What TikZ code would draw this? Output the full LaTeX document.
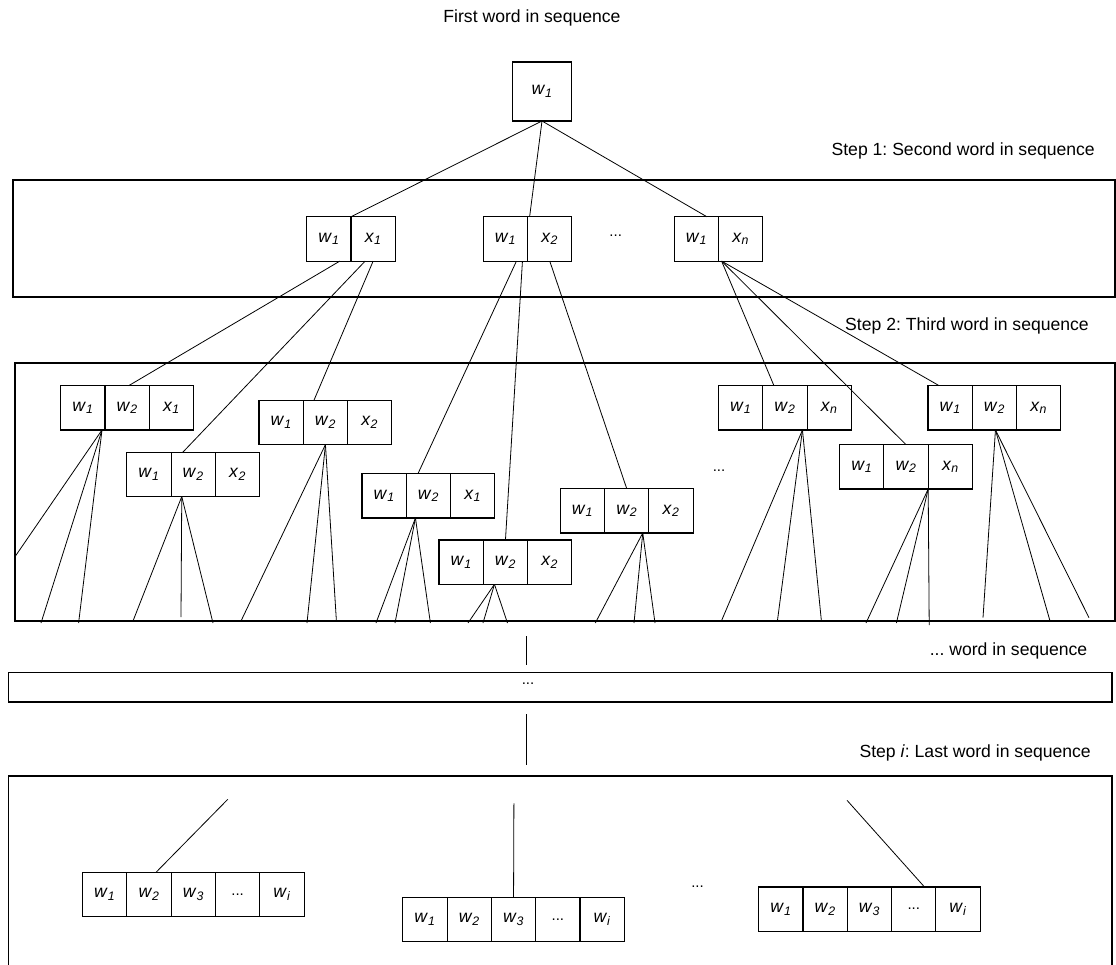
\documentclass[tikz,border=0pt]{standalone}
\usepackage{fontspec}
\setmainfont{Liberation Sans}
\usetikzlibrary{calc}
\frenchspacing
\newcommand\wsub[2]{\textit{#1}\textsubscript{\textit{#2}}}
\tikzset{
  cell/.style={draw, line width=1.1pt, minimum width=44.3pt, minimum height=44.3pt,
               inner sep=0pt, outer sep=0pt, font=\fontsize{17.6}{20}\selectfont},
  conn/.style={line width=0.8pt},
  frame/.style={line width=1.3pt},
  lbl/.style={font=\fontsize{17.6}{20}\selectfont, inner sep=0pt},
  dots/.style={font=\fontsize{15}{18}\selectfont, inner sep=0pt, anchor=base}
}
% two-cell group: name, left x, top y, subscript of x
\newcommand\twocell[4]{%
  \node[cell, anchor=north west] (#1-1) at (#2,#3) {\wsub{w}{1}};
  \node[cell, anchor=west] (#1-2) at (#1-1.east) {\wsub{x}{#4}};
}
% three-cell group
\newcommand\threecell[4]{%
  \node[cell, anchor=north west] (#1-1) at (#2,#3) {\wsub{w}{1}};
  \node[cell, anchor=west] (#1-2) at (#1-1.east) {\wsub{w}{2}};
  \node[cell, anchor=west] (#1-3) at (#1-2.east) {\wsub{x}{#4}};
}
% five-cell group
\newcommand\fivecell[3]{%
  \node[cell, anchor=north west] (#1-1) at (#2,#3) {\wsub{w}{1}};
  \node[cell, anchor=west] (#1-2) at (#1-1.east) {\wsub{w}{2}};
  \node[cell, anchor=west] (#1-3) at (#1-2.east) {\wsub{w}{3}};
  \node[cell, anchor=west, font=\fontsize{15}{18}\selectfont] (#1-4) at (#1-3.east) {...};
  \node[cell, anchor=west] (#1-5) at (#1-4.east) {\wsub{w}{i}};
}
\begin{document}
\begin{tikzpicture}[x=1pt,y=-1pt]
\useasboundingbox (0,0) rectangle (1116,965);

% frames
\draw[frame] (13,180) rectangle (1115,297);
\draw[frame] (15,363) rectangle (1115,621);
\draw[frame] (8.5,672.7) rectangle (1112,702);
\draw[frame] (8.5,970) -- (8.5,776) -- (1112,776) -- (1112,970);

% labels
\node[lbl] (t0) at (532,18) {First word in sequence};
\node[lbl, anchor=east] (t1) at (1095,151) {Step 1: Second word in sequence};
\node[lbl, anchor=east] (t2) at (1089,326) {Step 2: Third word in sequence};
\node[lbl, anchor=east] (t3) at (1087.5,650.7) {... word in sequence};
\node[lbl, anchor=east] (t4) at (1091,753.3) {Step \textit{i}: Last word in sequence};

\node[dots] (d1) at (615.7,236.5) {...};
\node[dots] (d2) at (719,471.5) {...};
\node[dots] (d3) at (528,684.5) {...};
\node[dots] (d4) at (697.5,887.5) {...};

% top node
\node[cell, minimum width=59pt, minimum height=59pt] (top) at (542,91.5) {\wsub{w}{1}};

% step 1
\twocell{s1a}{306.7}{216.8}{1}
\twocell{s1b}{483.3}{216.8}{2}
\twocell{s1c}{674.3}{216.8}{n}

% step 2
\threecell{A}{60.7}{385.7}{1}
\threecell{B}{126.8}{452.3}{2}
\threecell{C}{259}{400.3}{2}
\threecell{D}{362}{473.7}{1}
\threecell{E}{439}{540}{2}
\threecell{F}{560.3}{488.7}{2}
\threecell{G}{718.5}{385.7}{n}
\threecell{H}{839.6}{444.7}{n}
\threecell{I}{928}{385.7}{n}

% last step
\fivecell{N1}{82.6}{872.3}
\fivecell{N2}{402.8}{897.3}
\fivecell{N3}{758.7}{887}

% top -> step 1
\draw[conn] (top.south) -- (s1a-1.north east);
\draw[conn] (top.south) -- ([xshift=2pt]s1b-1.north east);
\draw[conn] (top.south) -- ([xshift=10.5pt]s1c-1.north);

% step 1 -> step 2
\draw[conn] ([xshift=11pt]s1a-1.south) -- ([xshift=1.5pt]A-2.north);
\draw[conn] ([xshift=-8pt]s1a-2.south) -- ([xshift=-10.5pt]B-2.north);
\draw[conn] (s1a-2.south) -- ([xshift=-11.5pt]C-2.north);
\draw[conn] ([xshift=11pt]s1b-1.south) -- ([xshift=-10.5pt]D-2.north);
\draw[conn] ([xshift=17pt]s1b-1.south) -- (E-2.north);
\draw[conn] (s1b-2.south) -- (F-2.north);
\draw[conn] ([xshift=3pt]s1c-1.south east) -- ([xshift=-11pt]G-2.north);
\draw[conn] ([xshift=3pt]s1c-1.south east) -- (H-2.north);
\draw[conn] ([xshift=3pt]s1c-1.south east) -- ([xshift=-11pt]I-1.north);

% free ends of step 2 fans
\foreach \n/\x/\y in {a1/15/556.7, a2/41/623, a3/78.6/623,
  b1/133/621, b2/181/617, b3/213/623,
  c1/241/621, c2/307/623, c3/336.4/621,
  d1e/376/623, d2e/395/623, d3e/430.4/623,
  e1/468/623, e2/483/623, e3/507.5/623,
  f1/595.3/623, f2/634/623, f3/655/623,
  g1/721.4/621, g2/777.4/621, g3/821.4/621,
  h1/866/623, h2/896.4/623, h3/929.2/625,
  i1/983/617.7, i2/1050/621, i3/1089/617.7}
  \coordinate (\n) at (\x,\y);

\foreach \e in {a1,a2,a3} \draw[conn] ([xshift=-3pt]A-1.south east) -- (\e);
\foreach \e in {b1,b2,b3} \draw[conn] ([xshift=-11.5pt]B-2.south) -- (\e);
\foreach \e in {c1,c2,c3} \draw[conn] (C-2.south) -- (\e);
\foreach \e in {d1e,d2e,d3e} \draw[conn] ([xshift=-13pt]D-2.south) -- (\e);
\foreach \e in {e1,e2,e3} \draw[conn] ([xshift=-11pt]E-2.south) -- (\e);
\foreach \e in {f1,f2,f3} \draw[conn] ([xshift=16pt]F-2.south) -- (\e);
\foreach \e in {g1,g2,g3} \draw[conn] ([xshift=17.5pt]G-2.south) -- (\e);
\foreach \e in {h1,h2,h3} \draw[conn] (H-3.south west) -- (\e);
\foreach \e in {i1,i2,i3} \draw[conn] ([xshift=1pt]I-2.south) -- (\e);

% continuation lines
\coordinate (v1a) at (526,636);
\coordinate (v1b) at (526,665);
\coordinate (v2a) at (526.7,714.3);
\coordinate (v2b) at (526.7,765);
\draw[conn] (v1a) -- (v1b);
\draw[conn] (v2a) -- (v2b);

% last step connectors
\coordinate (n1t) at (227.8,799.3);
\coordinate (n2t) at (513.9,803.3);
\coordinate (n3t) at (847,800.3);
\draw[conn] (n1t) -- ([xshift=7pt]N1-2.north);
\draw[conn] (n2t) -- (N2-3.north);
\draw[conn] (n3t) -- ([xshift=10.75pt]N3-4.north);
\end{tikzpicture}
\end{document}
